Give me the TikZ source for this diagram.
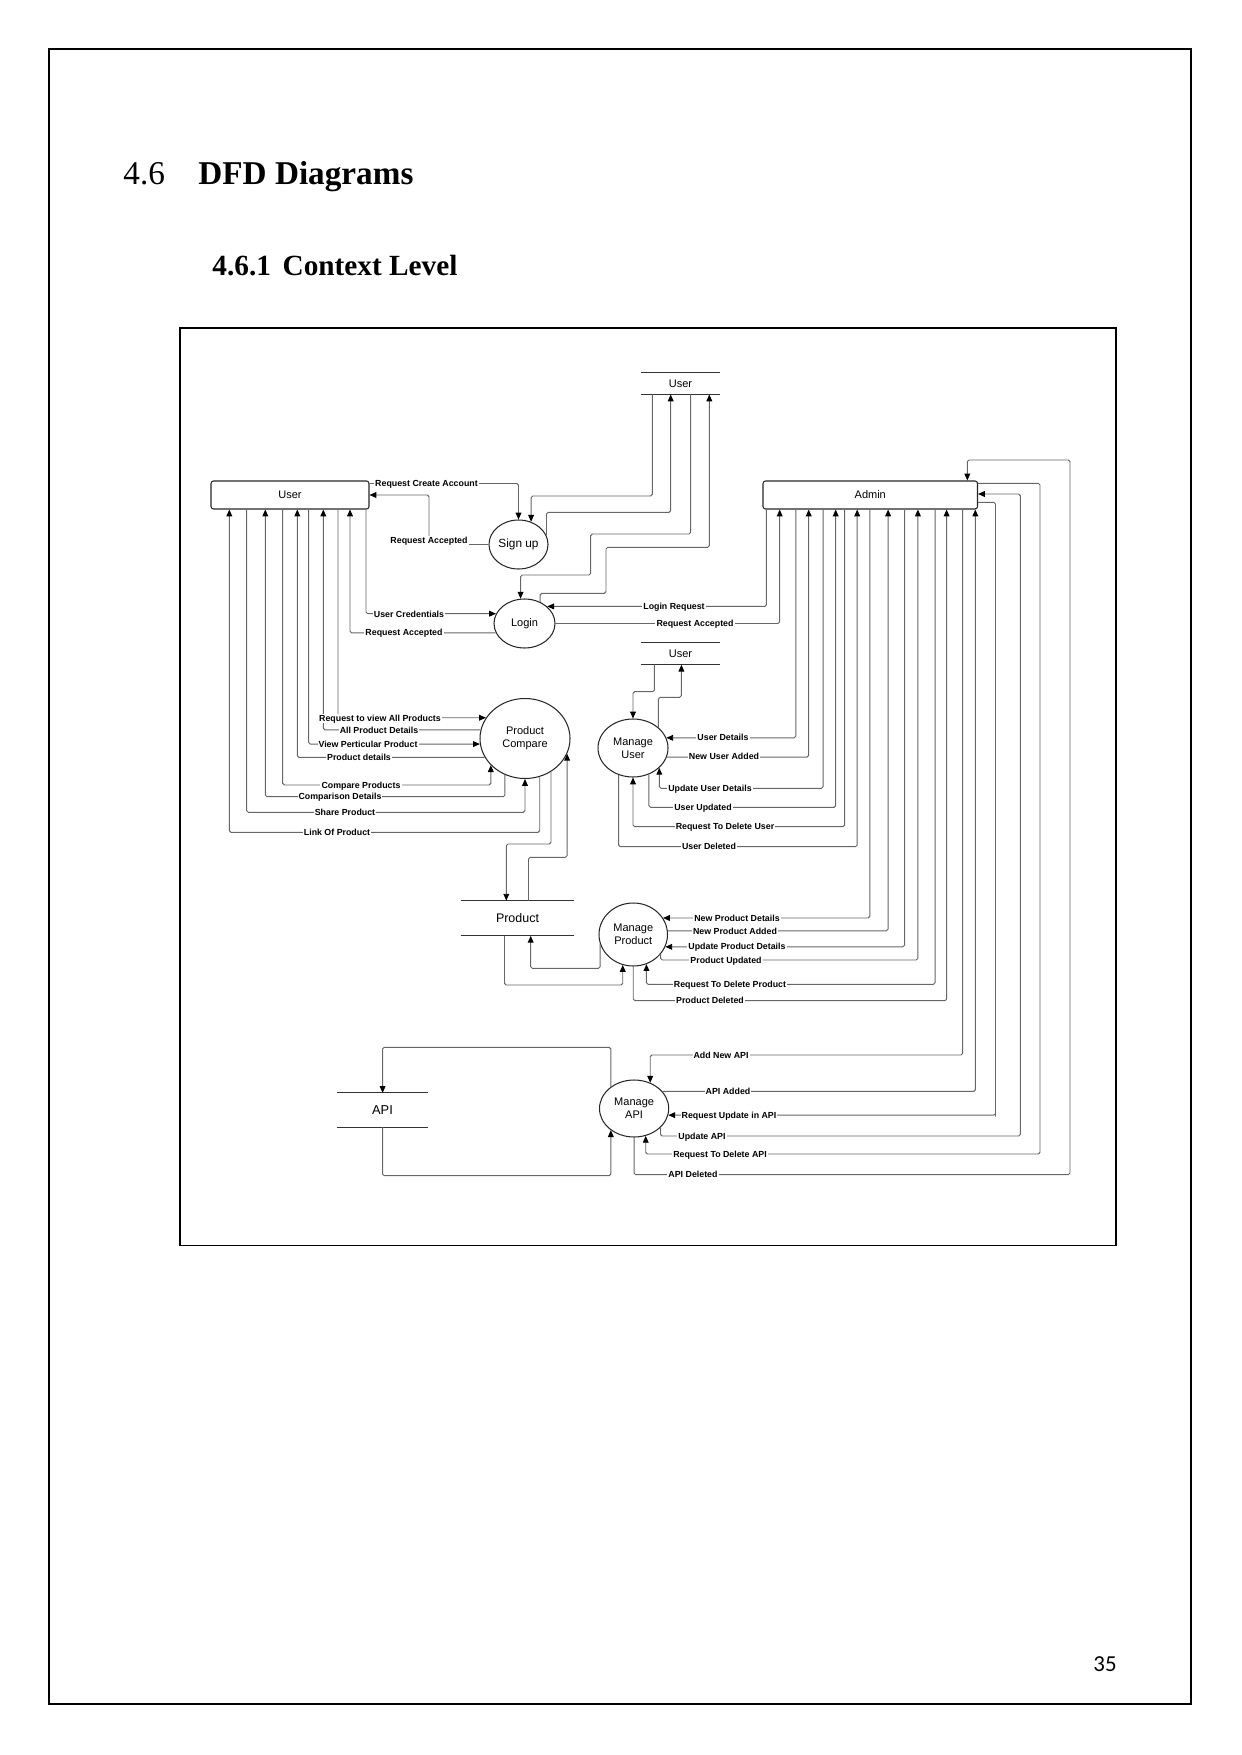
\documentclass[tikz,border=0pt]{standalone}
\usepackage{fontspec}
\setmainfont{Liberation Serif}
\setsansfont{Liberation Sans}
\newfontfamily\pagenumfont{Carlito}
\usetikzlibrary{arrows.meta, shapes.geometric}
\newlength\pu
\setlength\pu{0.016922cm}

\begin{document}
\begin{tikzpicture}[
    x=0.016922cm, y=-0.016922cm,
    ent/.style={rectangle, draw=black!85, line width=0.5pt, rounded corners=1.2pt, inner sep=0pt, minimum height=28\pu, font=\sffamily\fontsize{5.3}{6}\selectfont},
    proc/.style={ellipse, draw=black!85, line width=0.5pt, inner sep=0pt, align=center, font=\sffamily\fontsize{5.3}{6.4}\selectfont},
    store/.style={inner sep=0pt, font=\sffamily\fontsize{5.3}{6}\selectfont},
    flow/.style={draw=black!60, line width=0.45pt, rounded corners=0.8pt, -{Triangle[length=3.3pt, width=2.8pt, color=black]}},
    lbl/.style={fill=white, inner sep=0.5pt, text height=3.1pt, text depth=0pt, font=\sffamily\bfseries\fontsize{4.25}{5}\selectfont}
]
\useasboundingbox (0,0) rectangle (1241,1755);

% Page
\draw[line width=0.7pt] (49,49) rectangle (1191,1704);
\node[anchor=base west, inner sep=0pt, font=\fontsize{16}{19}\selectfont] (secnum) at (123,185) {4.6};
\node[anchor=base west, inner sep=0pt, font=\bfseries\fontsize{16}{19}\selectfont] (sectitle) at (198,185) {DFD Diagrams};
\node[anchor=base west, inner sep=0pt, font=\bfseries\fontsize{14.1}{17}\selectfont] (subsec) at (212,276) {4.6.1\hspace{0.4em}Context Level};
\node[font=\pagenumfont\fontsize{11}{13}\selectfont] (pagenum) at (1105,1664) {35};

% Diagram frame
\draw[line width=0.6pt] (180,328) rectangle (1116,1245.5);

% Entities
\node[ent, minimum width=158\pu] (user) at (290,495) {User};
\node[ent, minimum width=214.5\pu] (admin) at (870.25,495) {Admin};

% Data stores
\node[store, minimum width=79\pu, minimum height=20.7\pu] (ustore) at (680.5,383.7) {User};
\node[store, minimum width=79\pu, minimum height=21.6\pu] (ustore2) at (680.5,653.5) {User};
\node[store, minimum width=113\pu, minimum height=34.3\pu, font=\sffamily\fontsize{6}{7}\selectfont] (pstore) at (517.5,918.2) {Product};
\node[store, minimum width=91\pu, minimum height=33.4\pu, font=\sffamily\fontsize{6.2}{7}\selectfont] (apistore) at (382.5,1110) {API};
\foreach \s in {ustore, ustore2, pstore, apistore}
    \draw[line width=0.5pt, black!80] (\s.north west) -- (\s.north east) (\s.south west) -- (\s.south east);

% Processes
\node[proc, minimum width=59\pu, minimum height=49\pu, font=\sffamily\fontsize{5.7}{7}\selectfont] (signup) at (518.5,544.5) {Sign up};
\node[proc, minimum width=61\pu, minimum height=49\pu] (login) at (524.5,623.5) {Login};
\node[proc, minimum width=90\pu, minimum height=80\pu] (compare) at (525,738.5) {Product\\Compare};
\node[proc, minimum width=70\pu, minimum height=58\pu] (muser) at (633,748) {Manage\\User};
\node[proc, minimum width=68.5\pu, minimum height=63\pu] (mprod) at (633.25,934.5) {Manage\\Product};
\node[proc, minimum width=69.2\pu, minimum height=57\pu] (mapi) at (634.1,1108.5) {Manage\\API};

% Sign up and login
\draw[flow] (user.east |- 0,483.5) -| (signup.north);
\draw[flow] (signup.west) -| (429,495) -- (user.east);
\draw[flow] (ustore.south -| 652.3,0) -- (652.3,496) -| (signup.61);
\draw[flow] (signup.18) |- (670.7,512.3) -- (ustore.south -| 670.7,0);
\draw[flow] (ustore.south -| 690.7,0) |- (590.7,534) -- (590.7,575) -| (login.99);
\draw[flow] (login.54) |- (606,593.3) |- (709.3,547.3) -- (ustore.south -| 709.3,0);
\draw[flow] (user.south -| 366,0) |- (login.161);
\draw[flow] (login.198) -| (user.south -| 350,0);
\draw[flow] (admin.south -| 766.4,0) |- (login.37);
\draw[flow] (login.east) -| (admin.south -| 779.7,0);

% Product compare
\draw[flow] (user.south -| 338,0) |- (compare.152);
\draw[flow] (compare.169) -| (user.south -| 323.3,0);
\draw[flow] (user.south -| 308.7,0) |- (compare.187);
\draw[flow] (compare.205) -| (user.south -| 297.3,0);
\draw[flow] (user.south -| 282.7,0) -- (282.7,785) -| (compare.218);
\draw[flow] (compare.241) |- (265.3,796.7) -- (user.south -| 265.3,0);
\draw[flow] (user.south -| 246.7,0) -- (246.7,812.3) -| (compare.south);
\draw[flow] (compare.291) |- (229.3,832.3) -- (user.south -| 229.3,0);
\draw[flow] (compare.308) |- (506.3,844) -- (pstore.north -| 506.3,0);
\draw[flow] (pstore.north -| 528.5,0) -- (528.5,857.3) -| (compare.340);

% Manage user
\draw[flow] (ustore2.south -| 654.4,0) -- (654.4,691.7) -| (muser.north);
\draw[flow] (muser.39) |- (681.4,697.3) -- (ustore2.south -| 681.4,0);
\draw[flow] (admin.south -| 795.8,0) |- (muser.17);
\draw[flow] (muser.345) -| (admin.south -| 808.7,0);
\draw[flow] (admin.south -| 823.1,0) -- (823.1,788.3) -| (muser.323);
\draw[flow] (muser.301) |- (835.7,807.3) -- (admin.south -| 835.7,0);
\draw[flow] (admin.south -| 844.6,0) -- (844.6,826.7) -| (muser.south);
\draw[flow] (muser.242) |- (857.2,846.7) -- (admin.south -| 857.2,0);

% Manage product
\draw[flow] (admin.south -| 869.8,0) |- (mprod.29);
\draw[flow] (mprod.6) -| (admin.south -| 888.1,0);
\draw[flow] (admin.south -| 904.6,0) |- (mprod.339);
\draw[flow] (mprod.324) |- (917.9,960) -- (admin.south -| 917.9,0);
\draw[flow] (admin.south -| 935.1,0) -- (935.1,984.3) -| (mprod.294);
\draw[flow] (mprod.south) |- (946.6,1000.7) -- (admin.south -| 946.6,0);
\draw[flow] (mprod.196) |- (530.7,968.3) -- (pstore.south -| 530.7,0);
\draw[flow] (pstore.south -| 504.5,0) -- (504.5,985) -| (mprod.251);

% Manage API
\draw[flow] (mapi.137) |- (382.6,1047.3) -- (apistore.north -| 382.6,0);
\draw[flow] (apistore.south -| 382.6,0) -- (382.6,1175.7) -| (mapi.223);
\draw[flow] (admin.south -| 962.7,0) -- (962.7,1055) -| (mapi.58);
\draw[flow] (mapi.31) -| (admin.south -| 975.3,0);
\draw[flow] (admin.east |- 0,502.3) -| (995.5,1115) |- (mapi.349);
\draw[flow] (mapi.324) |- (1020.3,1136) |- (admin.east |- 0,494);
\draw[flow] (admin.east |- 0,483.3) -| (1040,1154) -| (mapi.293);
\draw[flow] (mapi.south) |- (1070,1174.7) |- (967.3,460) -- (admin.north -| 967.3,0);

% Flow labels
\node[lbl] (lrca) at (426.5,483.5) {Request Create Account};
\node[lbl] (lra1) at (429,540.5) {Request Accepted};
\node[lbl] (luc) at (409,614) {User Credentials};
\node[lbl] (lra2) at (404,632.7) {Request Accepted};
\node[lbl] (llr) at (674,606.7) {Login Request};
\node[lbl] (lra3) at (695,623.5) {Request Accepted};
\node[lbl] (lrvap) at (380,718.3) {Request to view All Products};
\node[lbl] (lapd) at (379,730) {All Product Details};
\node[lbl] (lvpp) at (368,744.3) {View Perticular Product};
\node[lbl] (lpd) at (359,757.3) {Product details};
\node[lbl] (lcp) at (361,785) {Compare Products};
\node[lbl] (lcd) at (340,796.7) {Comparison Details};
\node[lbl] (lsp) at (345,812.3) {Share Product};
\node[lbl] (llop) at (337,832.3) {Link Of Product};
\node[lbl] (lud) at (723,737.7) {User Details};
\node[lbl] (lnua) at (724,756.7) {New User Added};
\node[lbl] (luud) at (710,788.3) {Update User Details};
\node[lbl] (luu) at (703,807.3) {User Updated};
\node[lbl] (lrtdu) at (725,826.7) {Request To Delete User};
\node[lbl] (ludel) at (709,846.7) {User Deleted};
\node[lbl] (lnpd) at (737,918.3) {New Product Details};
\node[lbl] (lnpa) at (735,931) {New Product Added};
\node[lbl] (lupd) at (737,946.7) {Update Product Details};
\node[lbl] (lpu) at (726,960) {Product Updated};
\node[lbl] (lrtdp) at (730,984.3) {Request To Delete Product};
\node[lbl] (lpdel) at (710,1000.7) {Product Deleted};
\node[lbl] (lana) at (721,1055) {Add New API};
\node[lbl] (laa) at (728,1091.7) {API Added};
\node[lbl] (lrua) at (729,1115) {Request Update in API};
\node[lbl] (lua) at (702,1136) {Update API};
\node[lbl] (lrtda) at (720,1154) {Request To Delete API};
\node[lbl] (lad) at (693,1174.7) {API Deleted};

\end{tikzpicture}
\end{document}
